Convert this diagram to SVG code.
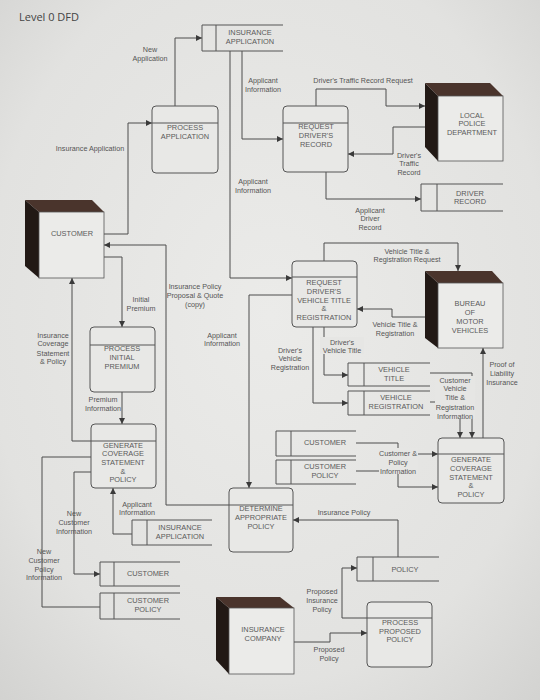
<svg xmlns="http://www.w3.org/2000/svg" width="540" height="700" viewBox="0 0 540 700">
<style>
.bg{fill:url(#bgg)}
.ln{fill:none;stroke:#4d4d4d;stroke-width:1}
.ar{fill:none;stroke:#4d4d4d;stroke-width:1;marker-end:url(#ah)}
.box{fill:#e8e8e6;stroke:#555;stroke-width:1}
.st{fill:none;stroke:#555;stroke-width:1}
.face{fill:#ebebe9;stroke:#555;stroke-width:0.8}
.top{fill:#4a342c}
.side{fill:#221915}
.mask{fill:#e6e6e4}
.nt{font-family:"Liberation Sans",Arial,sans-serif;font-size:7.4px;fill:#5a5a5a;text-anchor:middle}
.lb{font-family:"Liberation Sans",Arial,sans-serif;font-size:7.2px;fill:#555;text-anchor:middle}
.title{font-family:"Open Sans","Liberation Sans",sans-serif;font-size:11px;fill:#444}
</style>
<defs>
<radialGradient id="bgg" cx="50%" cy="45%" r="75%">
<stop offset="0" stop-color="#ebebe9"/>
<stop offset="0.7" stop-color="#e2e2e0"/>
<stop offset="1" stop-color="#d2d2d0"/>
</radialGradient>
<marker id="ah" markerUnits="userSpaceOnUse" markerWidth="7" markerHeight="6" refX="6" refY="3" orient="auto">
<path d="M0,0 L6,3 L0,6 Z" fill="#3a3a3a"/>
</marker>
</defs>
<rect class="bg" x="0" y="0" width="540" height="700"/>
<text class="title" x="19" y="21">Level 0 DFD</text>

<g id="connectors">
<polyline class="ar" points="175,106 175,38 202,38"/>
<polyline class="ar" points="104,234 128,234 128,123 152,123"/>
<polyline class="ar" points="242,51 242,139 283,139"/>
<polyline class="ar" points="230,51 230,278 292,278"/>
<polyline class="ar" points="316,106 316,89 386,89 386,106 425,106"/>
<polyline class="ar" points="425,127 393,127 393,154 348,154"/>
<polyline class="ar" points="326,172 326,199 421,199"/>
<polyline class="ar" points="324,261 324,243 458,243 458,271"/>
<polyline class="ar" points="425,317 392,317 392,309 357,309"/>
<polyline class="ar" points="324,327 324,375 348,375"/>
<polyline class="ar" points="313,327 313,403 348,403"/>
<polyline class="ar" points="430,373 472,373 472,438"/>
<polyline class="ar" points="430,402 460,402 460,438"/>
<polyline class="ar" points="483,438 483,348"/>
<polyline class="ar" points="356,443 398,443 398,454 438,454"/>
<polyline class="ar" points="356,471 398,471 398,487 438,487"/>
<polyline class="ar" points="398,557 398,520 293,520"/>
<polyline class="ar" points="367,618 342,618 342,568 357,568"/>
<polyline class="ar" points="294,642 330,642 330,633 367,633"/>
<polyline class="ar" points="292,295 249,295 249,488"/>
<polyline class="ar" points="229,505 166,505 166,245 104,245"/>
<polyline class="ar" points="104,257 122,257 122,327"/>
<polyline class="ar" points="122,392 122,424"/>
<polyline class="ar" points="91,441 72,441 72,278"/>
<polyline class="ln" points="91,457 42,457 42,607 100,607"/>
<polyline class="ar" points="91,472 74,472 74,574 100,574"/>
<polyline class="ar" points="132,534 113,534 113,488"/>
</g>

<g id="flow-labels">
<rect class="mask" x="435" y="376" width="40" height="43"/>
<rect class="mask" x="379" y="448" width="39" height="26"/>
<rect class="mask" x="320" y="337" width="44" height="17"/>
<text class="lb" x="150" y="51.5">New</text><text class="lb" x="150" y="60.5">Application</text>
<text class="lb" x="90" y="150.5">Insurance Application</text>
<text class="lb" x="263" y="82.5">Applicant</text><text class="lb" x="263" y="91.5">Information</text>
<text class="lb" x="363" y="82.5">Driver's Traffic Record Request</text>
<text class="lb" x="409" y="157.5">Driver's</text><text class="lb" x="409" y="165.5">Traffic</text><text class="lb" x="409" y="174.5">Record</text>
<text class="lb" x="253" y="183.5">Applicant</text><text class="lb" x="253" y="192.5">Information</text>
<text class="lb" x="370" y="212.5">Applicant</text><text class="lb" x="370" y="220.5">Driver</text><text class="lb" x="370" y="229.5">Record</text>
<text class="lb" x="407" y="253.5">Vehicle Title &amp;</text><text class="lb" x="407" y="261.5">Registration Request</text>
<text class="lb" x="195" y="288.5">Insurance Policy</text><text class="lb" x="195" y="297.5">Proposal &amp; Quote</text><text class="lb" x="195" y="306.5">(copy)</text>
<text class="lb" x="141" y="301.5">Initial</text><text class="lb" x="141" y="310.5">Premium</text>
<text class="lb" x="222" y="337.5">Applicant</text><text class="lb" x="222" y="345.5">Information</text>
<text class="lb" x="395" y="326.5">Vehicle Title &amp;</text><text class="lb" x="395" y="335.5">Registration</text>
<text class="lb" x="342" y="344.5">Driver's</text><text class="lb" x="342" y="352.5">Vehicle Title</text>
<text class="lb" x="290" y="352.5">Driver's</text><text class="lb" x="290" y="360.5">Vehicle</text><text class="lb" x="290" y="369.5">Registration</text>
<text class="lb" x="53" y="337.5">Insurance</text><text class="lb" x="53" y="345.5">Coverage</text><text class="lb" x="53" y="355.5">Statement</text><text class="lb" x="53" y="363.5">&amp; Policy</text>
<text class="lb" x="103" y="401.5">Premium</text><text class="lb" x="103" y="410.5">Information</text>
<text class="lb" x="502" y="366.5">Proof of</text><text class="lb" x="502" y="375.5">Liability</text><text class="lb" x="502" y="384.5">Insurance</text>
<text class="lb" x="455" y="382.5">Customer</text><text class="lb" x="455" y="390.5">Vehicle</text><text class="lb" x="455" y="399.5">Title &amp;</text><text class="lb" x="455" y="409.5">Registration</text><text class="lb" x="455" y="418.5">Information</text>
<text class="lb" x="398" y="455.5">Customer &amp;</text><text class="lb" x="398" y="464.5">Policy</text><text class="lb" x="398" y="473.5">Information</text>
<text class="lb" x="137" y="506.5">Applicant</text><text class="lb" x="137" y="514.5">Information</text>
<text class="lb" x="74" y="515.5">New</text><text class="lb" x="74" y="524.5">Customer</text><text class="lb" x="74" y="533.5">Information</text>
<text class="lb" x="44" y="554">New</text><text class="lb" x="44" y="563">Customer</text><text class="lb" x="44" y="571.5">Policy</text><text class="lb" x="44" y="579.5">Information</text>
<text class="lb" x="344" y="514.5">Insurance Policy</text>
<text class="lb" x="322" y="593.5">Proposed</text><text class="lb" x="322" y="602.5">Insurance</text><text class="lb" x="322" y="611.5">Policy</text>
<text class="lb" x="329" y="651.5">Proposed</text><text class="lb" x="329" y="660.5">Policy</text>
</g>

<g id="store-insurance-application-top">
<path class="st" d="M283,25 H202 V51 H283 M216,25 V51"/>
<text class="nt" x="250" y="35">INSURANCE</text><text class="nt" x="250" y="44">APPLICATION</text>
</g>
<g id="store-driver-record">
<path class="st" d="M503,184 H421 V211 H503 M437,184 V211"/>
<text class="nt" x="470" y="195.5">DRIVER</text><text class="nt" x="470" y="204">RECORD</text>
</g>
<g id="store-vehicle-title">
<path class="st" d="M430,363 H348 V386 H430 M364,363 V386"/>
<text class="nt" x="394" y="372">VEHICLE</text><text class="nt" x="394" y="381">TITLE</text>
</g>
<g id="store-vehicle-registration">
<path class="st" d="M430,391 H348 V415 H430 M364,391 V415"/>
<text class="nt" x="396" y="400">VEHICLE</text><text class="nt" x="396" y="409">REGISTRATION</text>
</g>
<g id="store-customer-right">
<path class="st" d="M356,431 H276 V456 H356 M291,431 V456"/>
<text class="nt" x="325" y="445">CUSTOMER</text>
</g>
<g id="store-customer-policy-right">
<path class="st" d="M356,460 H276 V484 H356 M291,460 V484"/>
<text class="nt" x="325" y="469">CUSTOMER</text><text class="nt" x="325" y="478">POLICY</text>
</g>
<g id="store-policy">
<path class="st" d="M439,557 H357 V581 H439 M373,557 V581"/>
<text class="nt" x="405" y="572">POLICY</text>
</g>
<g id="store-insurance-application-bottom">
<path class="st" d="M212,520 H132 V545 H212 M147,520 V545"/>
<text class="nt" x="180" y="530">INSURANCE</text><text class="nt" x="180" y="539">APPLICATION</text>
</g>
<g id="store-customer-left">
<path class="st" d="M180,562 H100 V586 H180 M114,562 V586"/>
<text class="nt" x="148" y="576">CUSTOMER</text>
</g>
<g id="store-customer-policy-left">
<path class="st" d="M180,593 H100 V619 H180 M114,593 V619"/>
<text class="nt" x="148" y="603">CUSTOMER</text><text class="nt" x="148" y="612">POLICY</text>
</g>

<g id="proc-process-application">
<rect class="box" x="152" y="106" width="66" height="67" rx="4"/><line class="st" x1="152" y1="123" x2="218" y2="123"/>
<text class="nt" x="185" y="130">PROCESS</text><text class="nt" x="185" y="139">APPLICATION</text>
</g>
<g id="proc-request-drivers-record">
<rect class="box" x="283" y="106" width="65" height="66" rx="4"/><line class="st" x1="283" y1="123" x2="348" y2="123"/>
<text class="nt" x="316" y="129">REQUEST</text><text class="nt" x="316" y="138">DRIVER'S</text><text class="nt" x="316" y="147">RECORD</text>
</g>
<g id="proc-request-vehicle-title">
<rect class="box" x="292" y="261" width="65" height="66" rx="4"/><line class="st" x1="292" y1="277" x2="357" y2="277"/>
<text class="nt" x="324" y="285">REQUEST</text><text class="nt" x="324" y="294">DRIVER'S</text><text class="nt" x="324" y="303">VEHICLE TITLE</text><text class="nt" x="324" y="311">&amp;</text><text class="nt" x="324" y="320">REGISTRATION</text>
</g>
<g id="proc-process-initial-premium">
<rect class="box" x="90" y="327" width="65" height="65" rx="4"/><line class="st" x1="90" y1="345" x2="155" y2="345"/>
<text class="nt" x="122" y="351">PROCESS</text><text class="nt" x="122" y="360">INITIAL</text><text class="nt" x="122" y="368.5">PREMIUM</text>
</g>
<g id="proc-generate-left">
<rect class="box" x="91" y="424" width="65" height="64" rx="4"/><line class="st" x1="91" y1="441" x2="156" y2="441"/>
<text class="nt" x="123" y="448">GENERATE</text><text class="nt" x="123" y="456">COVERAGE</text><text class="nt" x="123" y="465">STATEMENT</text><text class="nt" x="123" y="474">&amp;</text><text class="nt" x="123" y="482">POLICY</text>
</g>
<g id="proc-generate-right">
<rect class="box" x="438" y="438" width="66" height="65" rx="4"/><line class="st" x1="438" y1="454" x2="504" y2="454"/>
<text class="nt" x="471" y="462">GENERATE</text><text class="nt" x="471" y="471">COVERAGE</text><text class="nt" x="471" y="480">STATEMENT</text><text class="nt" x="471" y="488">&amp;</text><text class="nt" x="471" y="497">POLICY</text>
</g>
<g id="proc-determine-policy">
<rect class="box" x="229" y="488" width="64" height="64" rx="4"/><line class="st" x1="229" y1="505" x2="293" y2="505"/>
<text class="nt" x="261" y="511">DETERMINE</text><text class="nt" x="261" y="520">APPROPRIATE</text><text class="nt" x="261" y="529">POLICY</text>
</g>
<g id="proc-process-proposed-policy">
<rect class="box" x="367" y="602" width="65" height="65" rx="4"/><line class="st" x1="367" y1="618" x2="432" y2="618"/>
<text class="nt" x="400" y="625">PROCESS</text><text class="nt" x="400" y="634">PROPOSED</text><text class="nt" x="400" y="642">POLICY</text>
</g>

<g id="ent-customer">
<polygon class="top" points="25,200 92,200 104,212 39,212"/>
<polygon class="side" points="25,200 39,212 39,278 25,266"/>
<rect class="face" x="39" y="212" width="65" height="66"/>
<text class="nt" x="72" y="236">CUSTOMER</text>
</g>
<g id="ent-local-police">
<polygon class="top" points="425,83 490,83 503,96 438,96"/>
<polygon class="side" points="425,83 438,96 438,161 425,147"/>
<rect class="face" x="438" y="96" width="65" height="65"/>
<text class="nt" x="472" y="117.5">LOCAL</text><text class="nt" x="472" y="126">POLICE</text><text class="nt" x="472" y="134.5">DEPARTMENT</text>
</g>
<g id="ent-bureau">
<polygon class="top" points="425,271 492,271 503,283 438,283"/>
<polygon class="side" points="425,271 438,283 438,348 425,338"/>
<rect class="face" x="438" y="283" width="65" height="65"/>
<text class="nt" x="470" y="305.5">BUREAU</text><text class="nt" x="470" y="314.5">OF</text><text class="nt" x="470" y="323.5">MOTOR</text><text class="nt" x="470" y="332.5">VEHICLES</text>
</g>
<g id="ent-insurance-company">
<polygon class="top" points="216,597 280,597 294,608 229,608"/>
<polygon class="side" points="216,597 229,608 229,674 216,660"/>
<rect class="face" x="229" y="608" width="65" height="66"/>
<text class="nt" x="263" y="631.5">INSURANCE</text><text class="nt" x="263" y="640.5">COMPANY</text>
</g>
</svg>
